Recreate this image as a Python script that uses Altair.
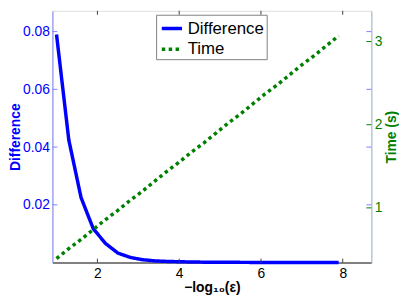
import altair as alt
import pandas as pd

x_vals = [1.0, 1.3, 1.6, 1.9, 2.2, 2.5, 2.8, 3.1, 3.4, 3.7, 4.0, 4.3,
          4.6, 4.9, 5.2, 5.5, 5.8, 6.1, 6.4, 6.7, 7.0, 7.3, 7.6, 7.9]
diff_vals = [0.0790, 0.0425, 0.0225, 0.0117, 0.0066, 0.0033, 0.0018, 0.0010,
             0.0006, 0.0004, 0.0003, 0.0002, 0.00015, 0.0001, 0.0001, 0.00008,
             0.00006, 0.00005, 0.00004, 0.00003, 0.00003, 0.00002, 0.00002, 0.00002]
time_vals = [0.39, 0.51, 0.62, 0.74, 0.86, 0.97, 1.09, 1.20, 1.32, 1.44, 1.55, 1.67,
             1.78, 1.90, 2.02, 2.13, 2.25, 2.37, 2.48, 2.60, 2.72, 2.83, 2.95, 3.07]
series_names = ["Difference", "Time"]
x_ticks = [2, 4, 6, 8]
left_ticks = [0.02, 0.04, 0.06, 0.08]
right_ticks = [1, 2, 3]

W, H = 323, 255
FONT = "Liberation Sans"

df_diff = pd.DataFrame({"x": x_vals, "y": diff_vals, "series": "Difference"})
df_time = pd.DataFrame({"x": x_vals, "y": time_vals, "series": "Time"})

xscale = alt.Scale(domain=[0.9, 8.7], nice=False, zero=False)
lscale = alt.Scale(domain=[0, 0.0872], nice=False, zero=False)
rscale = alt.Scale(domain=[0.342, 3.37], nice=False, zero=False)

color = alt.Color("series:N", scale=alt.Scale(domain=series_names, range=["#0000ff", "#008000"]),
                  legend=alt.Legend(title=None, orient="none", legendX=105, legendY=4,
                                    strokeColor="#808080", fillColor="white", padding=2,
                                    labelFontSize=17, labelFont=FONT, symbolType="stroke",
                                    symbolSize=420, symbolStrokeWidth=3.5, labelOffset=4,
                                    symbolOffset=2, rowPadding=1, labelColor="black"))
dash = alt.StrokeDash("series:N", scale=alt.Scale(domain=series_names, range=[[1, 0], [3.5, 3.5]]),
                      legend=alt.Legend(title=None, orient="none", legendX=105, legendY=4))

xaxis = alt.Axis(values=x_ticks, title="−log₁₀(ε)", ticks=False, grid=False,
                 domainColor="#808080", domainWidth=2, labelFontSize=14, labelFont=FONT,
                 labelColor="black", labelPadding=4, titleFont=FONT, titleFontSize=14,
                 titleFontWeight="bold", titlePadding=0, titleColor="black")
laxis = alt.Axis(values=left_ticks, format=".2f", title="Difference", orient="left",
                 ticks=False, grid=False, domainColor="#8080ff", domainWidth=1,
                 labelColor="#0000ff", labelFontSize=14, labelFont=FONT, labelPadding=3,
                 titleColor="#0000ff", titleFont=FONT, titleFontSize=14,
                 titleFontWeight="bold", titlePadding=0)
raxis = alt.Axis(values=right_ticks, format="d", title="Time (s)", orient="right",
                 ticks=False, grid=False, domainColor="#9fb6cd", domainWidth=1,
                 labelColor="#008000", labelFontSize=14, labelFont=FONT, labelPadding=3,
                 titleColor="#008000", titleFont=FONT, titleFontSize=14,
                 titleFontWeight="bold", titlePadding=3, titleAngle=-90,
                 titleBaseline="top")

diff_line = alt.Chart(df_diff).mark_line(strokeWidth=3.5, strokeCap="butt").encode(
    x=alt.X("x:Q", scale=xscale, axis=xaxis),
    y=alt.Y("y:Q", scale=lscale, axis=laxis),
    color=color, strokeDash=dash)

df_lt = pd.DataFrame({"y": left_ticks})
left_tick_l = alt.Chart(df_lt).mark_rule(color="#8080ff").encode(
    y=alt.Y("y:Q", scale=lscale, axis=laxis), x=alt.value(0), x2=alt.value(5))
left_tick_r = alt.Chart(df_lt).mark_rule(color="#8080ff").encode(
    y=alt.Y("y:Q", scale=lscale, axis=laxis), x=alt.value(W - 5), x2=alt.value(W))

df_xt = pd.DataFrame({"x": x_ticks})
x_tick_b = alt.Chart(df_xt).mark_rule(color="#404040").encode(
    x=alt.X("x:Q", scale=xscale, axis=xaxis), y=alt.value(H), y2=alt.value(H - 4))
x_tick_t = alt.Chart(df_xt).mark_rule(color="#404040").encode(
    x=alt.X("x:Q", scale=xscale, axis=xaxis), y=alt.value(0), y2=alt.value(4))

left_group = alt.layer(diff_line, left_tick_l, left_tick_r, x_tick_b, x_tick_t)

time_line = alt.Chart(df_time).mark_line(strokeWidth=3.5, strokeCap="butt").encode(
    x=alt.X("x:Q", scale=xscale, axis=xaxis),
    y=alt.Y("y:Q", scale=rscale, axis=raxis),
    color=color, strokeDash=dash)

df_rt = pd.DataFrame({"y": right_ticks})
right_tick = alt.Chart(df_rt).mark_rule(color="#008000").encode(
    y=alt.Y("y:Q", scale=rscale, axis=raxis), x=alt.value(W - 5), x2=alt.value(W))

right_group = alt.layer(time_line, right_tick)

chart = alt.layer(left_group, right_group).resolve_scale(y="independent").properties(
    width=W, height=H, padding={"left": 0, "top": 0, "right": 0, "bottom": 0}
).configure_view(stroke="#808080", strokeWidth=2).configure(background="white")

chart.save("out.html", embed_options={"renderer": "svg", "actions": False})
